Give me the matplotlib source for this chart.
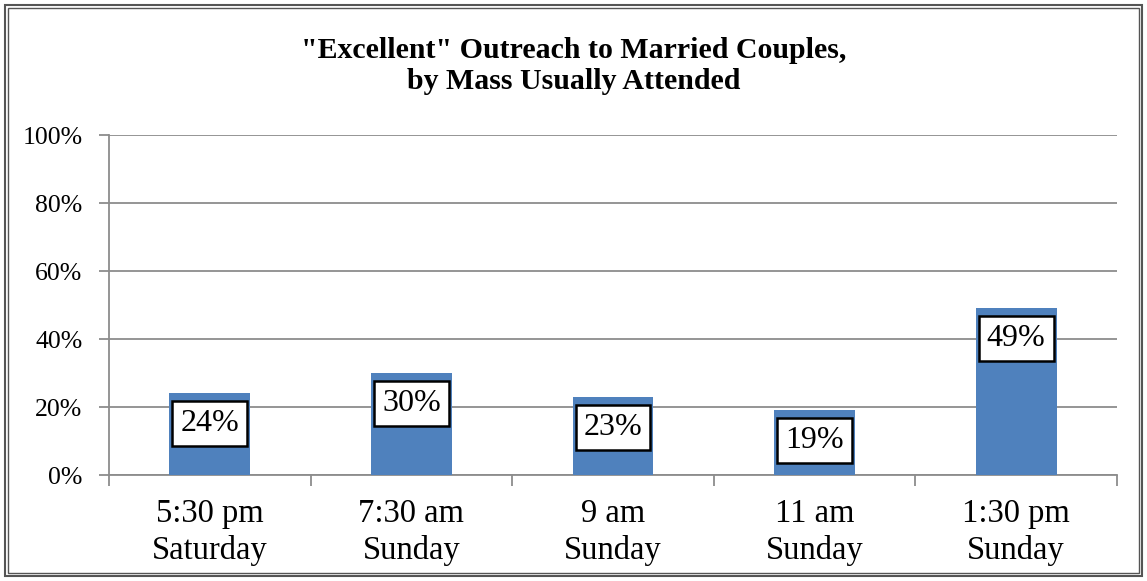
import matplotlib
matplotlib.use("Agg")
import matplotlib.pyplot as plt
from matplotlib.patches import Rectangle
import numpy as np

# data
categories = ["5:30 pm\nSaturday", "7:30 am\nSunday", "9 am\nSunday", "11 am\nSunday", "1:30 pm\nSunday"]
values = [24, 30, 23, 19, 49]
title = "\"Excellent\" Outreach to Married Couples,\nby Mass Usually Attended"

plt.rcParams['font.family'] = ['Liberation Serif', 'DejaVu Serif']

grid_col = "#8c8c8c"
bar_col = "#4f81bd"

fig = plt.figure(figsize=(11.47, 5.81), dpi=100)
ax = fig.add_axes([109/1147, 1 - 475/581, (1117-109)/1147, (475-135)/581])

x = np.arange(len(categories))
ax.bar(x, values, width=0.4, color=bar_col, zorder=3)

ax.set_xlim(-0.5, len(categories) - 0.5)
ax.set_ylim(0, 100)
ax.set_yticks(np.arange(0, 101, 20))
ax.set_yticklabels(["%d%%" % v for v in range(0, 101, 20)], fontsize=18.5)
ax.yaxis.grid(True, color=grid_col, linewidth=1.3, zorder=0)

# category labels centered, ticks at the category boundaries
ax.set_xticks(x)
ax.set_xticklabels(categories, fontsize=23.5, linespacing=1.25)
ax.tick_params(axis='x', length=0, pad=17)
ax.set_xticks(np.arange(-0.5, len(categories)), minor=True)
ax.tick_params(axis='x', which='minor', length=8, color=grid_col, width=1.3)
ax.tick_params(axis='y', length=7, color=grid_col, width=1.3, pad=12)

for s in ['top', 'right']:
    ax.spines[s].set_visible(False)
for s in ['left', 'bottom']:
    ax.spines[s].set_color(grid_col)
    ax.spines[s].set_linewidth(1.3)

for xi, v in zip(x, values):
    ax.annotate("%d%%" % v, (xi, v), xytext=(0, -22), textcoords='offset points',
                ha='center', va='center', fontsize=23, zorder=5,
                bbox=dict(boxstyle='square,pad=0.25', fc='white', ec='black', lw=1.8))

fig.text(0.5, 1 - 66/581, title, ha='center', va='center', fontsize=21.5,
         fontweight='bold', linespacing=1.15)

# double frame around the chart
fig.patches.append(Rectangle((5/1147, 5/581), 1 - 10/1147, 1 - 10/581, transform=fig.transFigure,
                             fill=False, ec='#555555', lw=1.5))
fig.patches.append(Rectangle((8/1147, 8/581), 1 - 16/1147, 1 - 16/581, transform=fig.transFigure,
                             fill=False, ec='#555555', lw=1.0))

fig.savefig("out.png", dpi=100)
